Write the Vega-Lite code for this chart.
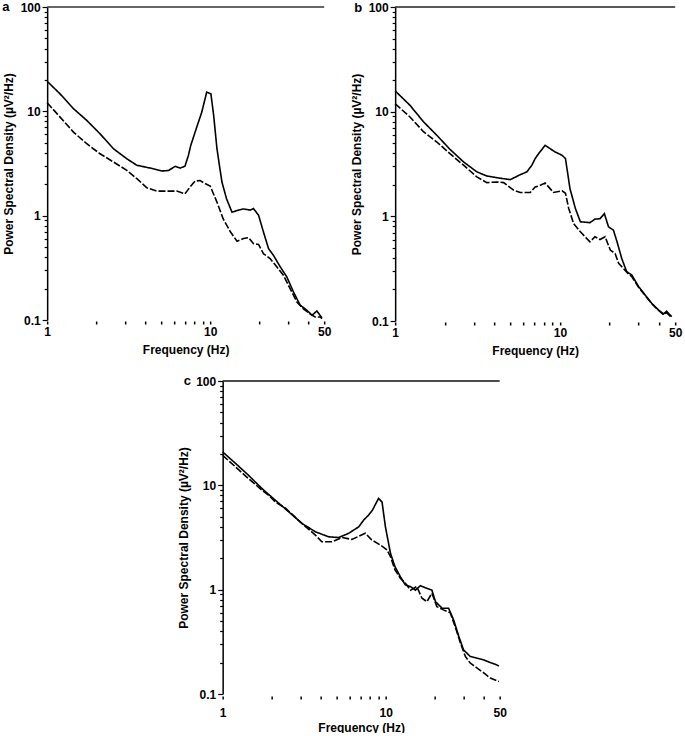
{
  "$schema": "https://vega.github.io/schema/vega-lite/v6.json",
  "padding": {"left": 2, "top": 0, "right": 2, "bottom": 0},
  "background": "white",
  "datasets": {
    "a": [
      {"s": "solid", "f": 1, "v": 19.4}, {"s": "solid", "f": 1.2, "v": 14.7}, {"s": "solid", "f": 1.45, "v": 10.6}, {"s": "solid", "f": 1.75, "v": 8.18}, {"s": "solid", "f": 2.11, "v": 6.09}, {"s": "solid", "f": 2.55, "v": 4.38}, {"s": "solid", "f": 3.08, "v": 3.51}, {"s": "solid", "f": 3.55, "v": 3.04}, {"s": "solid", "f": 4.28, "v": 2.86}, {"s": "solid", "f": 5.05, "v": 2.68}, {"s": "solid", "f": 5.55, "v": 2.71}, {"s": "solid", "f": 6.1, "v": 2.97}, {"s": "solid", "f": 6.55, "v": 2.86}, {"s": "solid", "f": 7.0, "v": 2.98}, {"s": "solid", "f": 7.35, "v": 3.78}, {"s": "solid", "f": 7.6, "v": 4.72}, {"s": "solid", "f": 8.28, "v": 7.1}, {"s": "solid", "f": 8.88, "v": 9.83}, {"s": "solid", "f": 9.52, "v": 15.3}, {"s": "solid", "f": 10.1, "v": 14.7}, {"s": "solid", "f": 10.5, "v": 9.14}, {"s": "solid", "f": 11.0, "v": 4.38}, {"s": "solid", "f": 11.8, "v": 2.1}, {"s": "solid", "f": 12.6, "v": 1.45}, {"s": "solid", "f": 13.6, "v": 1.08}, {"s": "solid", "f": 14.9, "v": 1.13}, {"s": "solid", "f": 16.0, "v": 1.16}, {"s": "solid", "f": 17.6, "v": 1.13}, {"s": "solid", "f": 18.4, "v": 1.17}, {"s": "solid", "f": 19.8, "v": 1.01}, {"s": "solid", "f": 21.2, "v": 0.7}, {"s": "solid", "f": 22.8, "v": 0.483}, {"s": "solid", "f": 24.4, "v": 0.418}, {"s": "solid", "f": 26.9, "v": 0.323}, {"s": "solid", "f": 29.5, "v": 0.259}, {"s": "solid", "f": 32.4, "v": 0.186}, {"s": "solid", "f": 35.6, "v": 0.139}, {"s": "solid", "f": 39.2, "v": 0.124}, {"s": "solid", "f": 42.1, "v": 0.111}, {"s": "solid", "f": 45.1, "v": 0.122}, {"s": "solid", "f": 48.4, "v": 0.105},
      {"s": "dashed", "f": 1, "v": 12.1}, {"s": "dashed", "f": 1.2, "v": 8.8}, {"s": "dashed", "f": 1.45, "v": 6.32}, {"s": "dashed", "f": 1.75, "v": 4.89}, {"s": "dashed", "f": 2.11, "v": 3.92}, {"s": "dashed", "f": 2.55, "v": 3.27}, {"s": "dashed", "f": 3.08, "v": 2.72}, {"s": "dashed", "f": 3.55, "v": 2.26}, {"s": "dashed", "f": 4.09, "v": 1.85}, {"s": "dashed", "f": 4.7, "v": 1.72}, {"s": "dashed", "f": 6.24, "v": 1.72}, {"s": "dashed", "f": 7.0, "v": 1.62}, {"s": "dashed", "f": 7.52, "v": 1.88}, {"s": "dashed", "f": 8.07, "v": 2.15}, {"s": "dashed", "f": 8.67, "v": 2.17}, {"s": "dashed", "f": 9.1, "v": 2.07}, {"s": "dashed", "f": 10.0, "v": 1.92}, {"s": "dashed", "f": 11.0, "v": 1.35}, {"s": "dashed", "f": 12.0, "v": 0.936}, {"s": "dashed", "f": 13.3, "v": 0.7}, {"s": "dashed", "f": 14.6, "v": 0.569}, {"s": "dashed", "f": 16.0, "v": 0.603}, {"s": "dashed", "f": 17.2, "v": 0.617}, {"s": "dashed", "f": 18.4, "v": 0.54}, {"s": "dashed", "f": 19.8, "v": 0.53}, {"s": "dashed", "f": 21.2, "v": 0.433}, {"s": "dashed", "f": 23.3, "v": 0.388}, {"s": "dashed", "f": 25.6, "v": 0.323}, {"s": "dashed", "f": 28.1, "v": 0.269}, {"s": "dashed", "f": 30.9, "v": 0.2}, {"s": "dashed", "f": 34, "v": 0.149}, {"s": "dashed", "f": 37.3, "v": 0.128}, {"s": "dashed", "f": 41.1, "v": 0.114}, {"s": "dashed", "f": 44, "v": 0.107}, {"s": "dashed", "f": 47, "v": 0.107}, {"s": "dashed", "f": 48.6, "v": 0.103}
    ],
    "b": [
      {"s": "solid", "f": 1, "v": 15.8}, {"s": "solid", "f": 1.23, "v": 11.5}, {"s": "solid", "f": 1.49, "v": 7.96}, {"s": "solid", "f": 1.79, "v": 5.95}, {"s": "solid", "f": 2.15, "v": 4.37}, {"s": "solid", "f": 2.6, "v": 3.31}, {"s": "solid", "f": 3.13, "v": 2.66}, {"s": "solid", "f": 3.6, "v": 2.43}, {"s": "solid", "f": 4.14, "v": 2.34}, {"s": "solid", "f": 4.99, "v": 2.24}, {"s": "solid", "f": 5.74, "v": 2.5}, {"s": "solid", "f": 6.3, "v": 2.66}, {"s": "solid", "f": 6.75, "v": 3.08}, {"s": "solid", "f": 7.07, "v": 3.56}, {"s": "solid", "f": 7.42, "v": 3.97}, {"s": "solid", "f": 8.13, "v": 4.77}, {"s": "solid", "f": 8.72, "v": 4.43}, {"s": "solid", "f": 9.35, "v": 4.12}, {"s": "solid", "f": 10.3, "v": 3.83}, {"s": "solid", "f": 10.8, "v": 3.56}, {"s": "solid", "f": 11.5, "v": 1.84}, {"s": "solid", "f": 12.4, "v": 1.19}, {"s": "solid", "f": 13.3, "v": 0.887}, {"s": "solid", "f": 15.2, "v": 0.87}, {"s": "solid", "f": 16.3, "v": 0.94}, {"s": "solid", "f": 17.5, "v": 0.95}, {"s": "solid", "f": 18.6, "v": 1.06}, {"s": "solid", "f": 19.7, "v": 0.794}, {"s": "solid", "f": 21.1, "v": 0.738}, {"s": "solid", "f": 22.2, "v": 0.571}, {"s": "solid", "f": 23.7, "v": 0.396}, {"s": "solid", "f": 25.4, "v": 0.296}, {"s": "solid", "f": 27.3, "v": 0.275}, {"s": "solid", "f": 30, "v": 0.213}, {"s": "solid", "f": 32.9, "v": 0.177}, {"s": "solid", "f": 36.1, "v": 0.147}, {"s": "solid", "f": 39.7, "v": 0.127}, {"s": "solid", "f": 42.5, "v": 0.117}, {"s": "solid", "f": 44.4, "v": 0.124}, {"s": "solid", "f": 47.6, "v": 0.11},
      {"s": "dashed", "f": 1, "v": 11.9}, {"s": "dashed", "f": 1.23, "v": 8.9}, {"s": "dashed", "f": 1.49, "v": 6.4}, {"s": "dashed", "f": 1.79, "v": 5.13}, {"s": "dashed", "f": 2.15, "v": 3.97}, {"s": "dashed", "f": 2.6, "v": 3.08}, {"s": "dashed", "f": 3.13, "v": 2.38}, {"s": "dashed", "f": 3.6, "v": 2.1}, {"s": "dashed", "f": 4.14, "v": 2.13}, {"s": "dashed", "f": 4.55, "v": 2.1}, {"s": "dashed", "f": 5.23, "v": 1.78}, {"s": "dashed", "f": 5.74, "v": 1.69}, {"s": "dashed", "f": 6.6, "v": 1.69}, {"s": "dashed", "f": 7.07, "v": 1.91}, {"s": "dashed", "f": 7.42, "v": 1.95}, {"s": "dashed", "f": 8.13, "v": 2.08}, {"s": "dashed", "f": 9.14, "v": 1.69}, {"s": "dashed", "f": 10.3, "v": 1.75}, {"s": "dashed", "f": 10.8, "v": 1.66}, {"s": "dashed", "f": 11.3, "v": 1.19}, {"s": "dashed", "f": 12.1, "v": 0.853}, {"s": "dashed", "f": 13.3, "v": 0.711}, {"s": "dashed", "f": 15.2, "v": 0.571}, {"s": "dashed", "f": 16.3, "v": 0.638}, {"s": "dashed", "f": 17.5, "v": 0.6}, {"s": "dashed", "f": 18.8, "v": 0.638}, {"s": "dashed", "f": 20.2, "v": 0.476}, {"s": "dashed", "f": 21.6, "v": 0.442}, {"s": "dashed", "f": 22.7, "v": 0.355}, {"s": "dashed", "f": 24.3, "v": 0.316}, {"s": "dashed", "f": 26.1, "v": 0.28}, {"s": "dashed", "f": 27.3, "v": 0.265}, {"s": "dashed", "f": 30, "v": 0.21}, {"s": "dashed", "f": 32.9, "v": 0.175}, {"s": "dashed", "f": 36.1, "v": 0.146}, {"s": "dashed", "f": 39.7, "v": 0.126}, {"s": "dashed", "f": 42.5, "v": 0.115}, {"s": "dashed", "f": 44.4, "v": 0.12}, {"s": "dashed", "f": 47.6, "v": 0.108}
    ],
    "c": [
      {"s": "solid", "f": 1, "v": 20.9}, {"s": "solid", "f": 1.2, "v": 16.2}, {"s": "solid", "f": 1.44, "v": 12.5}, {"s": "solid", "f": 1.74, "v": 9.33}, {"s": "solid", "f": 2.1, "v": 7.22}, {"s": "solid", "f": 2.54, "v": 5.58}, {"s": "solid", "f": 3.06, "v": 4.32}, {"s": "solid", "f": 3.7, "v": 3.59}, {"s": "solid", "f": 4.47, "v": 3.21}, {"s": "solid", "f": 5.15, "v": 3.16}, {"s": "solid", "f": 5.93, "v": 3.47}, {"s": "solid", "f": 6.83, "v": 4.0}, {"s": "solid", "f": 7.33, "v": 4.65}, {"s": "solid", "f": 7.86, "v": 5.19}, {"s": "solid", "f": 8.3, "v": 5.8}, {"s": "solid", "f": 9.04, "v": 7.5}, {"s": "solid", "f": 9.5, "v": 6.9}, {"s": "solid", "f": 9.96, "v": 4.0}, {"s": "solid", "f": 10.7, "v": 2.23}, {"s": "solid", "f": 11.4, "v": 1.66}, {"s": "solid", "f": 12.3, "v": 1.33}, {"s": "solid", "f": 13.2, "v": 1.11}, {"s": "solid", "f": 14.2, "v": 1.07}, {"s": "solid", "f": 15.2, "v": 0.99}, {"s": "solid", "f": 16.3, "v": 1.09}, {"s": "solid", "f": 17.9, "v": 1.03}, {"s": "solid", "f": 19.2, "v": 0.99}, {"s": "solid", "f": 20.2, "v": 0.767}, {"s": "solid", "f": 22.2, "v": 0.664}, {"s": "solid", "f": 24.3, "v": 0.664}, {"s": "solid", "f": 26.1, "v": 0.513}, {"s": "solid", "f": 28.1, "v": 0.355}, {"s": "solid", "f": 30, "v": 0.265}, {"s": "solid", "f": 33, "v": 0.229}, {"s": "solid", "f": 36.4, "v": 0.22}, {"s": "solid", "f": 40, "v": 0.212}, {"s": "solid", "f": 43.8, "v": 0.2}, {"s": "solid", "f": 48.1, "v": 0.19}, {"s": "solid", "f": 49.5, "v": 0.185},
      {"s": "dashed", "f": 1, "v": 19.4}, {"s": "dashed", "f": 1.2, "v": 15.0}, {"s": "dashed", "f": 1.44, "v": 11.6}, {"s": "dashed", "f": 1.74, "v": 9.0}, {"s": "dashed", "f": 1.91, "v": 8.05}, {"s": "dashed", "f": 2.1, "v": 6.95}, {"s": "dashed", "f": 2.43, "v": 6.03}, {"s": "dashed", "f": 3.06, "v": 4.32}, {"s": "dashed", "f": 3.7, "v": 3.34}, {"s": "dashed", "f": 4.06, "v": 2.88}, {"s": "dashed", "f": 4.68, "v": 2.88}, {"s": "dashed", "f": 5.39, "v": 3.16}, {"s": "dashed", "f": 6.2, "v": 3.03}, {"s": "dashed", "f": 7.5, "v": 3.47}, {"s": "dashed", "f": 8.2, "v": 3.0}, {"s": "dashed", "f": 9.27, "v": 2.68}, {"s": "dashed", "f": 10.2, "v": 2.4}, {"s": "dashed", "f": 10.7, "v": 2.07}, {"s": "dashed", "f": 11.4, "v": 1.55}, {"s": "dashed", "f": 12.3, "v": 1.29}, {"s": "dashed", "f": 13.2, "v": 1.15}, {"s": "dashed", "f": 14.2, "v": 0.99}, {"s": "dashed", "f": 15.5, "v": 1.07}, {"s": "dashed", "f": 16.7, "v": 0.828}, {"s": "dashed", "f": 17.9, "v": 0.767}, {"s": "dashed", "f": 19.2, "v": 0.924}, {"s": "dashed", "f": 20.6, "v": 0.688}, {"s": "dashed", "f": 22.6, "v": 0.64}, {"s": "dashed", "f": 24.9, "v": 0.6}, {"s": "dashed", "f": 26.7, "v": 0.44}, {"s": "dashed", "f": 28.7, "v": 0.31}, {"s": "dashed", "f": 30.8, "v": 0.229}, {"s": "dashed", "f": 33, "v": 0.198}, {"s": "dashed", "f": 36.4, "v": 0.177}, {"s": "dashed", "f": 40, "v": 0.159}, {"s": "dashed", "f": 43.8, "v": 0.142}, {"s": "dashed", "f": 48.1, "v": 0.134}, {"s": "dashed", "f": 49.5, "v": 0.132}
    ],
    "top": [{"v": 100}]
  },
  "config": {
    "view": {"stroke": null},
    "font": "Liberation Sans",
    "axis": {
      "labelFont": "Liberation Sans", "labelFontWeight": "bold", "labelFontSize": 12, "labelColor": "black",
      "titleFont": "Liberation Sans", "titleFontWeight": "bold", "titleFontSize": 12, "titleColor": "black",
      "grid": false, "tickColor": "black", "domainColor": "black", "domainWidth": 1.5, "tickWidth": 1.2
    },
    "title": {"font": "Liberation Sans", "fontSize": 13, "fontWeight": "bold", "anchor": "start", "frame": "group", "color": "black"}
  },
  "spacing": 18,
  "center": true,
  "vconcat": [
    {
      "spacing": 18,
      "hconcat": [
        {
          "width": 277, "height": 313,
          "title": {"text": "a", "dx": -45, "offset": -12.5},
          "layer": [
            {
              "data": {"name": "a"},
              "mark": {"type": "line", "color": "black", "strokeWidth": 1.6},
              "encoding": {
                "x": {"field": "f", "type": "quantitative", "scale": {"type": "log", "domain": [1, 50]},
                  "axis": {"title": "Frequency (Hz)", "domain": false, "values": [1,2,3,4,5,6,7,8,9,10,20,30,40,50], "labelExpr": "datum.value == 1 || datum.value == 10 || datum.value == 50 ? datum.value + '' : ''", "labelFlush": false, "labelOverlap": false, "tickSize": 3, "tickWidth": 1.5, "offset": 1, "labelPadding": 2, "titlePadding": 7}},
                "y": {"field": "v", "type": "quantitative", "scale": {"type": "log", "domain": [0.1, 100]},
                  "axis": {"title": "Power Spectral Density (µV²/Hz)", "values": [0.1,0.2,0.3,0.4,0.5,0.6,0.7,0.8,0.9,1,2,3,4,5,6,7,8,9,10,20,30,40,50,60,70,80,90,100], "labelExpr": "datum.value == 0.1 || datum.value == 1 || datum.value == 10 || datum.value == 100 ? datum.value + '' : ''", "labelOverlap": false, "tickSize": {"condition": {"test": "datum.value == 0.1 || datum.value == 1 || datum.value == 10 || datum.value == 100", "value": 5}, "value": 3}, "labelPadding": 2, "titlePadding": 5}},
                "strokeDash": {"field": "s", "type": "nominal", "scale": {"domain": ["solid", "dashed"], "range": [[1, 0], [7, 2]]}, "legend": null}
              }
            },
            {
              "data": {"name": "top"},
              "mark": {"type": "rule", "color": "#333", "strokeWidth": 1.5},
              "encoding": {"y": {"field": "v", "type": "quantitative"}}
            }
          ]
        },
        {
          "width": 280, "height": 314,
          "title": {"text": "b", "dx": -41, "offset": -14},
          "layer": [
            {
              "data": {"name": "b"},
              "mark": {"type": "line", "color": "black", "strokeWidth": 1.6},
              "encoding": {
                "x": {"field": "f", "type": "quantitative", "scale": {"type": "log", "domain": [1, 50]},
                  "axis": {"title": "Frequency (Hz)", "domain": false, "values": [1,2,3,4,5,6,7,8,9,10,20,30,40,50], "labelExpr": "datum.value == 1 || datum.value == 10 || datum.value == 50 ? datum.value + '' : ''", "labelFlush": false, "labelOverlap": false, "tickSize": 3, "tickWidth": 1.5, "offset": 1, "labelPadding": 2, "titlePadding": 7}},
                "y": {"field": "v", "type": "quantitative", "scale": {"type": "log", "domain": [0.1, 100]},
                  "axis": {"title": "Power Spectral Density (µV²/Hz)", "values": [0.1,0.2,0.3,0.4,0.5,0.6,0.7,0.8,0.9,1,2,3,4,5,6,7,8,9,10,20,30,40,50,60,70,80,90,100], "labelExpr": "datum.value == 0.1 || datum.value == 1 || datum.value == 10 || datum.value == 100 ? datum.value + '' : ''", "labelOverlap": false, "tickSize": {"condition": {"test": "datum.value == 0.1 || datum.value == 1 || datum.value == 10 || datum.value == 100", "value": 5}, "value": 3}, "labelPadding": 2, "titlePadding": 5}},
                "strokeDash": {"field": "s", "type": "nominal", "scale": {"domain": ["solid", "dashed"], "range": [[1, 0], [7, 2]]}, "legend": null}
              }
            },
            {
              "data": {"name": "top"},
              "mark": {"type": "rule", "color": "#222", "strokeWidth": 1.5},
              "encoding": {"y": {"field": "v", "type": "quantitative"}}
            }
          ]
        }
      ]
    },
    {
      "width": 277, "height": 313,
      "title": {"text": "c", "dx": -39, "offset": -12.5},
      "layer": [
        {
          "data": {"name": "c"},
          "mark": {"type": "line", "color": "black", "strokeWidth": 1.6},
          "encoding": {
            "x": {"field": "f", "type": "quantitative", "scale": {"type": "log", "domain": [1, 50]},
              "axis": {"title": "Frequency (Hz)", "domain": false, "values": [1,2,3,4,5,6,7,8,9,10,20,30,40,50], "labelExpr": "datum.value == 1 || datum.value == 10 || datum.value == 50 ? datum.value + '' : ''", "labelFlush": false, "labelOverlap": false, "tickSize": 3, "tickWidth": 1.5, "offset": 2, "labelPadding": 8, "titlePadding": 4}},
            "y": {"field": "v", "type": "quantitative", "scale": {"type": "log", "domain": [0.1, 100]},
              "axis": {"title": "Power Spectral Density (µV²/Hz)", "values": [0.1,0.2,0.3,0.4,0.5,0.6,0.7,0.8,0.9,1,2,3,4,5,6,7,8,9,10,20,30,40,50,60,70,80,90,100], "labelExpr": "datum.value == 0.1 || datum.value == 1 || datum.value == 10 || datum.value == 100 ? datum.value + '' : ''", "labelOverlap": false, "tickSize": {"condition": {"test": "datum.value == 0.1 || datum.value == 1 || datum.value == 10 || datum.value == 100", "value": 5}, "value": 3}, "labelPadding": 2, "titlePadding": 5}},
            "strokeDash": {"field": "s", "type": "nominal", "scale": {"domain": ["solid", "dashed"], "range": [[1, 0], [7, 2]]}, "legend": null}
          }
        },
        {
          "data": {"name": "top"},
          "mark": {"type": "rule", "color": "#111", "strokeWidth": 1.5},
          "encoding": {"y": {"field": "v", "type": "quantitative"}}
        }
      ]
    }
  ]
}
